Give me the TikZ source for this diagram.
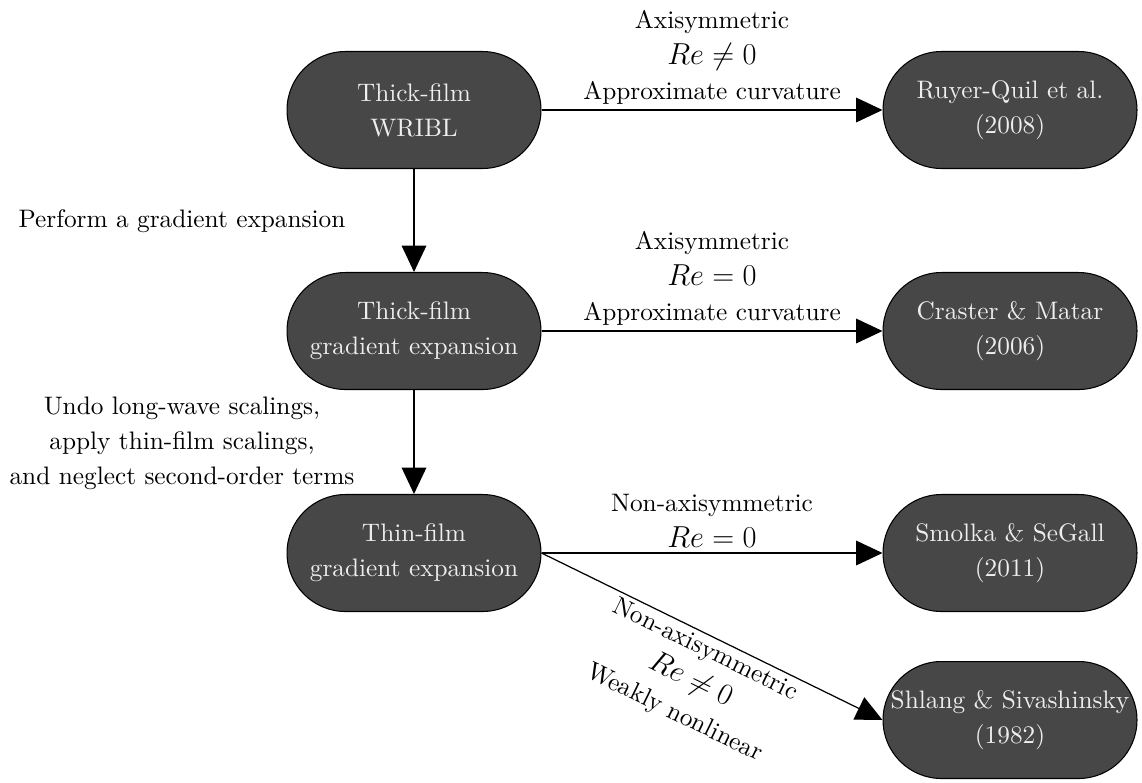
\documentclass[tikz,border=0pt]{standalone}
\usepackage{fontspec}
\setmainfont{lmroman10-regular.otf}[ItalicFont=lmroman10-italic.otf, BoldFont=lmroman10-bold.otf]
\usetikzlibrary{arrows.meta}
\definecolor{boxfill}{RGB}{71,71,71}
\definecolor{boxtext}{RGB}{238,238,238}
\begin{document}
\begin{tikzpicture}[x=0.02cm,y=-0.02cm,
  model/.style={draw=black, line width=0.6pt, fill=boxfill, text=boxtext,
    rectangle, rounded corners=1.17cm, minimum width=5.08cm, minimum height=2.34cm,
    inner sep=1pt, align=center, font=\fontsize{14.4}{20}\selectfont},
  conn/.style={-{Triangle[length=15pt,width=14pt]}, line width=0.7pt},
  note/.style={align=center, font=\fontsize{14.4}{20}\selectfont, inner sep=3pt}]
\useasboundingbox (0,0) rectangle (1142,782);

% models
\node[model] (wribl)   at (414,110)  {Thick-film\\WRIBL};
\node[model] (thickge) at (414,331)  {Thick-film\\gradient expansion};
\node[model] (thinge)  at (414,553)  {Thin-film\\gradient expansion};
\node[model] (ruyer)   at (1010,110) {Ruyer-Quil et al.\\(2008)};
\node[model] (craster) at (1010,331) {Craster \& Matar\\(2006)};
\node[model] (smolka)  at (1010,553) {Smolka \& SeGall\\(2011)};
\node[model] (shlang)  at (1010,720) {Shlang \& Sivashinsky\\(1982)};

% derivation steps
\draw[conn] (wribl) -- (thickge);
\draw[conn] (thickge) -- (thinge);
\node[note] (step1) at (182,221) {Perform a gradient expansion};
\node[note] (step2) at (182,443) {Undo long-wave scalings,\\apply thin-film scalings,\\and neglect second-order terms};

% reductions to published models
\draw[conn] (wribl) -- node[note, above]
  {Axisymmetric\\{\fontsize{16.5}{20}\selectfont $Re\neq0$}\\Approximate curvature} (ruyer);
\draw[conn] (thickge) -- node[note, above]
  {Axisymmetric\\{\fontsize{16.5}{20}\selectfont $Re=0$}\\Approximate curvature} (craster);
\draw[conn] (thinge) -- node[note, above]
  {Non-axisymmetric\\{\fontsize{16.5}{20}\selectfont $Re=0$}} (smolka);
\draw[conn] (thinge.east) -- node[note, sloped, below, inner sep=2pt]
  {Non-axisymmetric\\{\fontsize{16.5}{20}\selectfont $Re\neq0$}\\Weakly nonlinear} (shlang.west);
\end{tikzpicture}
\end{document}
